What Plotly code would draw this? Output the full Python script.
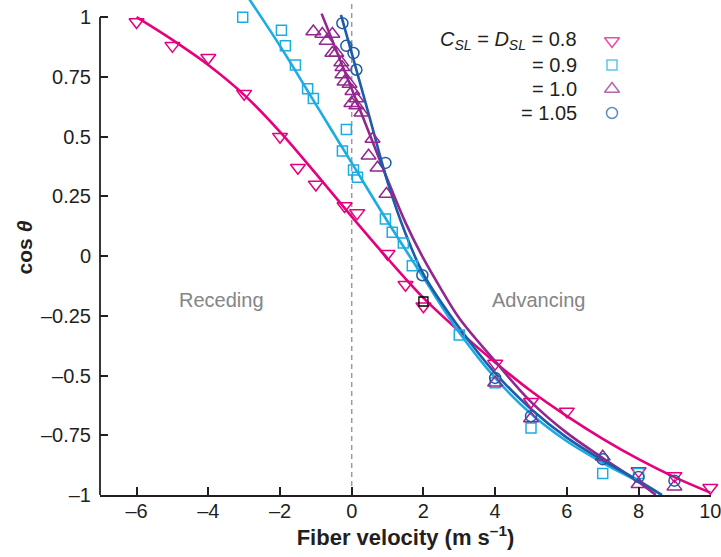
import plotly.graph_objects as go

# ---- measured points: fiber velocity (m/s) vs cos(theta) ----
v_08 = [-6, -5, -4, -3, -2, -1.5, -1, -0.2, 0.15, 1, 1.5, 2, 4, 5, 6, 8, 9, 10]
c_08 = [0.98, 0.88, 0.83, 0.68, 0.50, 0.37, 0.30, 0.21, 0.18, 0.01, -0.12, -0.21,
        -0.45, -0.61, -0.65, -0.90, -0.92, -0.97]

v_09 = [-3.04, -1.96, -1.85, -1.57, -1.23, -1.07, -0.15, -0.26, 0.05, 0.16, 0.94, 1.13,
        1.44, 1.69, 3, 4, 5, 7, 8]
c_09 = [1.0, 0.945, 0.88, 0.80, 0.70, 0.66, 0.53, 0.44, 0.36, 0.33, 0.155, 0.10,
        0.055, -0.04, -0.33, -0.53, -0.72, -0.91, -0.91]

v_10 = [-1.07, -0.82, -0.54, -0.70, -0.54, -0.43, -0.29, -0.26, -0.26, -0.20, -0.06,
        0.02, 0.13, -0.01, 0.13, 0.27, 0.58, 0.47, 0.72, 0.97, 4, 5, 7, 8, 9]
c_10 = [0.94, 0.93, 0.93, 0.90, 0.85, 0.85, 0.81, 0.79, 0.76, 0.73, 0.72,
        0.69, 0.66, 0.64, 0.63, 0.60, 0.49, 0.42, 0.37, 0.26, -0.53, -0.68, -0.84, -0.955, -0.965]

v_105 = [-0.26, -0.15, 0.05, 0.13, 0.94, 1.97, 4, 5, 7, 8, 9]
c_105 = [0.975, 0.88, 0.85, 0.78, 0.39, -0.08, -0.51, -0.67, -0.85, -0.925, -0.94]

# single black reference point
v_ref = [2.0]
c_ref = [-0.19]

# ---- fitted curves ----
fit_v_08 = [-6, -5, -4, -3, -2, -1, 0, 1, 2, 3, 4, 5, 6, 7, 8, 9, 10]
fit_c_08 = [1.0, 0.905, 0.80, 0.675, 0.52, 0.345, 0.165, -0.01, -0.175, -0.315,
            -0.445, -0.565, -0.67, -0.765, -0.85, -0.925, -0.99]

fit_v_09 = [-2.9, -2, -1, 0, 1, 2, 3, 4, 5, 6, 7, 8, 8.65]
fit_c_09 = [1.085, 0.88, 0.635, 0.39, 0.145, -0.09, -0.32, -0.51, -0.66, -0.775,
            -0.865, -0.945, -1.0]

fit_v_10 = [-0.84, 0, 0.5, 1, 1.5, 2, 2.5, 3, 4, 5, 6, 7, 8, 8.48]
fit_c_10 = [1.015, 0.70, 0.51, 0.32, 0.14, -0.01, -0.14, -0.26, -0.44, -0.61, -0.74,
            -0.845, -0.945, -1.0]

fit_v_105 = [-0.3, 0, 0.5, 1, 1.5, 2, 3, 4, 5, 6, 7, 8, 8.65]
fit_c_105 = [1.01, 0.85, 0.58, 0.31, 0.095, -0.075, -0.30, -0.49, -0.64, -0.76,
             -0.855, -0.94, -1.0]

# ---- ticks ----
x_ticks = [-6, -4, -2, 0, 2, 4, 6, 8, 10]
x_tick_text = ["–6", "–4", "–2", "0", "2", "4", "6", "8", "10"]
y_ticks = [1, 0.75, 0.5, 0.25, 0, -0.25, -0.5, -0.75, -1]
y_tick_text = ["1", "0.75", "0.5", "0.25", "0", "–0.25", "–0.5", "–0.75", "–1"]

legend_values = ["0.8", "0.9", "1.0", "1.05"]

PINK = "#E4007F"
CYAN = "#1BACE4"
PURPLE = "#93278F"
BLUE = "#1D5CA8"
INK = "#231F20"
FONT = "Liberation Sans, Arial, sans-serif"

# plot-area geometry in pixels (used for the key placement)
PLOT_L, PLOT_W, PLOT_H = 100, 611, 495
KEY_TEXT_RIGHT = 579
KEY_SYMBOL_X = 612
ROW_Y = [41, 65, 89, 113]

fig = go.Figure()

series = [
    (v_08, c_08, fit_v_08, fit_c_08, PINK, "triangle-down-open", 13),
    (v_09, c_09, fit_v_09, fit_c_09, CYAN, "square-open", 10),
    (v_10, c_10, fit_v_10, fit_c_10, PURPLE, "triangle-up-open", 13),
    (v_105, c_105, fit_v_105, fit_c_105, BLUE, "circle-open", 11),
]

# fitted curves first, so markers sit on top
for vx, cy, fv, fc, col, sym, size in series:
    fig.add_trace(go.Scatter(x=fv, y=fc, mode="lines", line=dict(color=col, width=2.6, shape="spline"),
                             showlegend=False, hoverinfo="skip"))

for vx, cy, fv, fc, col, sym, size in series:
    fig.add_trace(go.Scatter(x=vx, y=cy, mode="markers", showlegend=False,
                             marker=dict(symbol=sym, size=size, color=col, line=dict(color=col, width=1.5)),
                             cliponaxis=False))

fig.add_trace(go.Scatter(x=v_ref, y=c_ref, mode="markers", showlegend=False,
                         marker=dict(symbol="square-open", size=9, color="black",
                                     line=dict(color="black", width=1.3))))

# key symbols on a hidden unit overlay axis
key_x = [(KEY_SYMBOL_X - PLOT_L) / PLOT_W] * len(series)
key_y = [1 - r / PLOT_H for r in ROW_Y]
fig.add_trace(go.Scatter(
    x=key_x, y=key_y, xaxis="x2", yaxis="y2", mode="markers", showlegend=False, hoverinfo="skip",
    marker=dict(symbol=[s[5] for s in series], size=[s[6] for s in series],
                color=[s[4] for s in series], line=dict(color=[s[4] for s in series], width=1.5)),
    cliponaxis=False))

# dashed separator between receding and advancing
fig.add_vline(x=0, line=dict(color="#9B9B9B", width=1.5, dash="5px,4px"), layer="below")

# y-axis line from -1 to 1
fig.add_shape(type="line", xref="paper", x0=0, x1=0, yref="y", y0=-1, y1=1,
              line=dict(color=INK, width=1.8))

for text, px in [("Receding", 221), ("Advancing", 538)]:
    fig.add_annotation(text=text, x=(px - PLOT_L) / PLOT_W, y=1 - 300 / PLOT_H,
                       xref="paper", yref="paper", xanchor="center", yanchor="middle",
                       showarrow=False, font=dict(family=FONT, size=20, color="#858585"))

for i, val in enumerate(legend_values):
    label = "= " + val
    if i == 0:
        label = "<i>C</i><sub><i>SL</i></sub> = <i>D</i><sub><i>SL</i></sub> = " + val
    fig.add_annotation(text=label, x=(KEY_TEXT_RIGHT - PLOT_L) / PLOT_W, y=1 - ROW_Y[i] / PLOT_H,
                       xref="paper", yref="paper", xanchor="right", yanchor="middle",
                       showarrow=False, font=dict(family=FONT, size=20, color=INK))

fig.update_layout(
    width=721, height=557,
    margin=dict(l=PLOT_L, r=721 - PLOT_L - PLOT_W, t=0, b=557 - PLOT_H),
    plot_bgcolor="white", paper_bgcolor="white",
    font=dict(family=FONT, color=INK),
    showlegend=False,
    xaxis=dict(range=[-7.02, 10.02], tickvals=x_ticks, ticktext=x_tick_text,
               ticks="inside", ticklen=8, tickwidth=1.8, tickcolor=INK,
               showline=True, linecolor=INK, linewidth=1.8, showgrid=False, zeroline=False,
               tickfont=dict(size=20, family=FONT, color=INK), ticklabelstandoff=-3,
               ticklabeloverflow="allow",
               title=dict(text="<b>Fiber velocity (m s<sup>–1</sup>)</b>",
                          font=dict(size=22, family=FONT, color=INK), standoff=9)),
    yaxis=dict(range=[-1.0, 1.072], tickvals=y_ticks, ticktext=y_tick_text,
               ticks="inside", ticklen=8, tickwidth=1.8, tickcolor=INK,
               showline=False, showgrid=False, zeroline=False,
               tickfont=dict(size=20, family=FONT, color=INK), ticklabelstandoff=8,
               ticklabeloverflow="allow",
               title=dict(text="<b>cos <i>θ</i></b>",
                          font=dict(size=21, family=FONT, color=INK), standoff=2)),
    xaxis2=dict(overlaying="x", range=[0, 1], visible=False, fixedrange=True),
    yaxis2=dict(overlaying="y", range=[0, 1], visible=False, fixedrange=True),
)

fig.write_html("out.html")
